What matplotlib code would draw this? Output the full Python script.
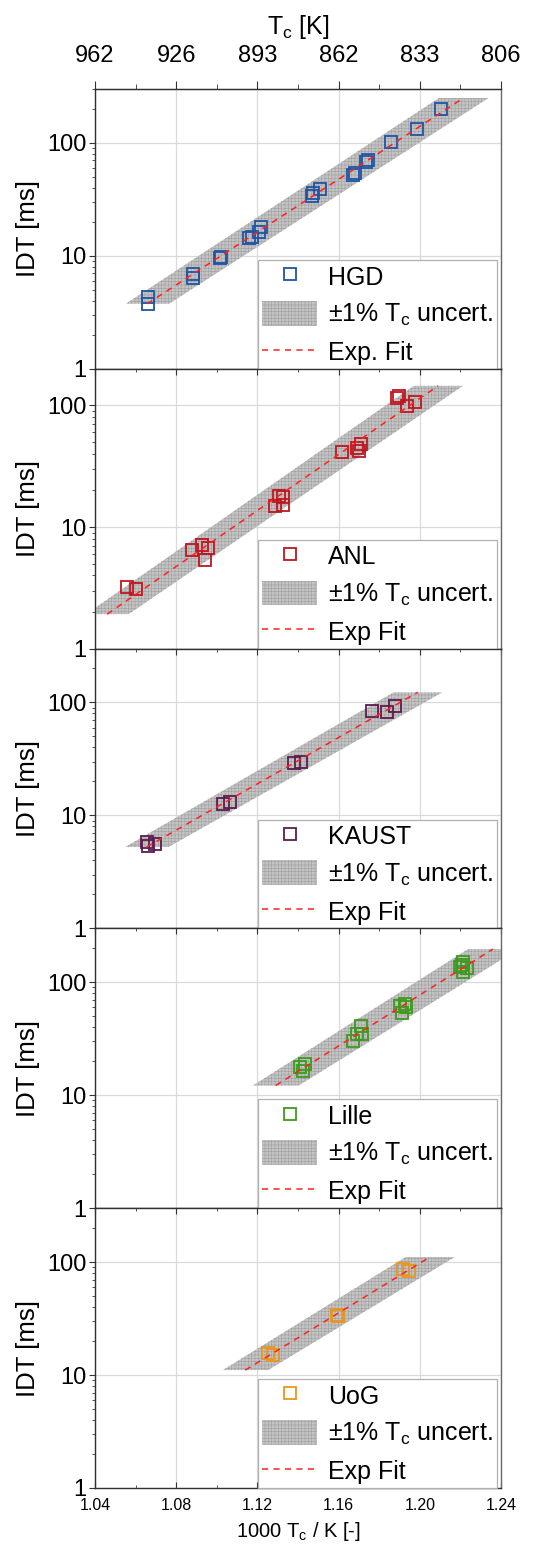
import matplotlib
matplotlib.use('Agg')
import matplotlib.pyplot as plt
from matplotlib.lines import Line2D
from matplotlib.ticker import FixedLocator, LogLocator, NullFormatter, FuncFormatter
import numpy as np

plt.rcParams['font.family'] = ['Liberation Sans', 'DejaVu Sans']
plt.rcParams['mathtext.fontset'] = 'custom'
plt.rcParams['mathtext.rm'] = 'Liberation Sans'
plt.rcParams['hatch.linewidth'] = 0.4
plt.rcParams['hatch.color'] = '#a2a2a2'

# data: x = 1000/T [1/K], y = IDT [ms]
hgd_x = [1.066, 1.066, 1.0884, 1.0884, 1.1016, 1.1020, 1.116, 1.1175, 1.121, 1.1217,
         1.147, 1.1475, 1.1508, 1.1672, 1.1680, 1.1733, 1.1746, 1.1857, 1.1988, 1.2105]
hgd_y = [4.36, 3.76, 6.35, 6.9, 9.5, 9.8, 14.3, 14.8, 16.4, 18.0,
         33.7, 36.0, 39.0, 52.5, 54.0, 67.5, 70.7, 101, 133, 200]

anl_x = [1.0556, 1.0600, 1.0880, 1.0929, 1.0958, 1.0942, 1.1288, 1.1325, 1.1308, 1.1328,
         1.1615, 1.1689, 1.1702, 1.1710, 1.1896, 1.1890, 1.1939, 1.1976]
anl_y = [3.23, 3.09, 6.5, 7.05, 6.78, 5.37, 14.8, 15.1, 17.9, 17.7,
         41.7, 45.0, 42.2, 47.9, 120, 116, 99.3, 107]

kaust_x = [1.0656, 1.0660, 1.0696, 1.1032, 1.1065, 1.1380, 1.1415, 1.1763, 1.1840, 1.1878]
kaust_y = [5.81, 5.36, 5.55, 12.5, 13.2, 29.2, 29.8, 83.3, 82.3, 92.2]

lille_x = [1.1410, 1.1434, 1.1426, 1.1669, 1.1689, 1.1709, 1.1714, 1.1902, 1.1910, 1.1927,
           1.1932, 1.2198, 1.2211, 1.2214, 1.2231, 1.2206]
lille_y = [17.7, 18.9, 16.3, 30.4, 34.9, 40.8, 34.9, 61.3, 53.5, 64.3,
           60, 136, 124, 150, 134, 142]

uog_x = [1.1250, 1.1275, 1.1590, 1.1599, 1.1919, 1.1948]
uog_y = [15.7, 15.1, 33.8, 33.1, 86, 83.2]

labels = ['HGD', 'ANL', 'KAUST', 'Lille', 'UoG']
fit_labels = ['Exp. Fit', 'Exp Fit', 'Exp Fit', 'Exp Fit', 'Exp Fit']
colors = ['#1f55a6', '#c0161f', '#5c1c4e', '#3c9a1c', '#e8961c']
fit_start = [1.0657, 1.046, 1.0654, 1.129, 1.114]
fit_end = [1.2215, 1.209, 1.199, 1.236, 1.205]
y_top = [300, 200, 300, 300, 300]
uncert = 0.01

xs = [hgd_x, anl_x, kaust_x, lille_x, uog_x]
ys = [hgd_y, anl_y, kaust_y, lille_y, uog_y]

fig = plt.figure(figsize=(5.52, 15.46), dpi=100)
gs = fig.add_gridspec(5, 1, left=95 / 552, right=501 / 552,
                      bottom=58 / 1546, top=1 - 89 / 1546, hspace=0)

major_x = [1.04, 1.08, 1.12, 1.16, 1.20, 1.24]
minor_x = [1.06, 1.10, 1.14, 1.18, 1.22]

axes = []
for i in range(5):
    ax = fig.add_subplot(gs[i])
    axes.append(ax)
    x = np.array(xs[i])
    y = np.array(ys[i])

    # exponential fit: log10(IDT) linear in 1000/T
    b, a = np.polyfit(x, np.log10(y), 1)
    xf = np.linspace(fit_start[i], fit_end[i], 100)
    yf = 10 ** (a + b * xf)

    # +-1% Tc band
    band = ax.fill_betweenx(yf, xf / (1 + uncert), xf / (1 - uncert),
                            facecolor='#c3c3c3', edgecolor='#a0a0a0',
                            hatch='+++++', linewidth=0, zorder=2)
    ax.plot(x, y, linestyle='none', marker='s', markersize=8,
            markerfacecolor='none', markeredgecolor=colors[i],
            markeredgewidth=1.3, zorder=3)
    ax.plot(xf, yf, color='#ff2020', lw=1.1, linestyle=(0, (4, 3.5)), zorder=4)

    ax.set_yscale('log')
    ax.set_xlim(1.04, 1.24)
    ax.set_ylim(1, y_top[i])
    ax.xaxis.set_major_locator(FixedLocator(major_x))
    ax.xaxis.set_minor_locator(FixedLocator(minor_x))
    ax.yaxis.set_major_locator(FixedLocator([1, 10, 100]))
    ax.yaxis.set_minor_locator(LogLocator(base=10, subs=np.arange(2, 10)))
    ax.yaxis.set_minor_formatter(NullFormatter())
    ax.yaxis.set_major_formatter(FuncFormatter(lambda v, p: '%d' % v))
    ax.grid(True, which='major', color='#dadada', lw=0.9, zorder=0)
    ax.set_axisbelow(True)

    ax.tick_params(axis='y', which='major', direction='out', length=4, width=0.8,
                   labelsize=17, pad=2, color='#333333')
    ax.tick_params(axis='y', which='minor', direction='out', length=2.5, width=0.6,
                   color='#333333')
    if i < 4:
        ax.tick_params(axis='x', which='both', bottom=False, labelbottom=False)
    else:
        ax.tick_params(axis='x', which='major', direction='out', length=3, width=0.8,
                       labelsize=11.5, pad=7.5, color='#333333')
        ax.tick_params(axis='x', which='minor', direction='out', length=2, width=0.6,
                       color='#333333')
        ax.xaxis.set_major_formatter(FuncFormatter(lambda v, p: '%.2f' % v))
        ax.set_xlabel('1000 T$_\\mathregular{c}$ / K [-]', fontsize=14.5, labelpad=5)
    if i > 0:
        ax.tick_params(axis='x', which='major', top=True, direction='in', length=4,
                       width=0.8, color='#333333')
        ax.tick_params(axis='x', which='minor', top=True, direction='in', length=2.5,
                       width=0.6, color='#333333')

    for s in ['left', 'bottom', 'top']:
        ax.spines[s].set_color('#303030')
        ax.spines[s].set_linewidth(1.0)
    ax.spines['right'].set_color('#6a6a6a')
    ax.spines['right'].set_linewidth(1.0)

    ax.set_ylabel('IDT [ms]', fontsize=18.5, labelpad=5)

    handles = [Line2D([], [], linestyle='none', marker='s', markersize=8,
                      markerfacecolor='none', markeredgecolor=colors[i],
                      markeredgewidth=1.3),
               band,
               Line2D([], [], color='#ff2020', lw=1.1, linestyle=(0, (4, 3.5)))]
    leg = ax.legend(handles, [labels[i], '±1% T$_\\mathregular{c}$ uncert.', fit_labels[i]],
                    loc='lower right', bbox_to_anchor=(0.99, 0.0), borderaxespad=0,
                    fontsize=18, handlelength=2.2, handleheight=1.15,
                    handletextpad=0.45, labelspacing=0.45, borderpad=0.15,
                    fancybox=False, framealpha=1, edgecolor='#b0b0b0')
    leg.get_frame().set_linewidth(0.9)
    leg.set_zorder(10)

# top axis in Tc [K]
top = axes[0].secondary_xaxis('top', functions=(lambda v: v, lambda v: v))
top.xaxis.set_major_locator(FixedLocator(major_x))
top.xaxis.set_minor_locator(FixedLocator(minor_x))
top.xaxis.set_major_formatter(FuncFormatter(lambda v, p: '%d' % round(1000 / v)))
top.tick_params(axis='x', which='major', direction='out', length=6, width=0.8,
                labelsize=17, pad=10, color='#333333')
top.tick_params(axis='x', which='minor', direction='out', length=3.5, width=0.6,
                color='#333333')
top.spines['top'].set_color('#303030')
top.set_xlabel('T$_\\mathregular{c}$ [K]', fontsize=18, labelpad=8)

fig.savefig('out.png', dpi=100)
